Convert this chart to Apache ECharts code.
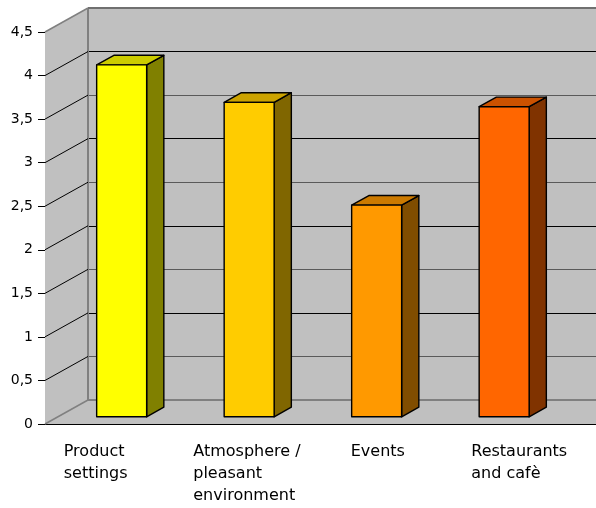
<!DOCTYPE html>
<html>
<head>
<meta charset="utf-8">
<script src="https://cdn.jsdelivr.net/npm/echarts@6/dist/echarts.min.js"></script>
<style>
	html, body { margin: 0; padding: 0; background: #fff; }
	#main { width: 596px; height: 508px; }
</style>
</head>
<body>
<div id="main"></div>
<script>
// chart data
var categories = ['Product\nsettings', 'Atmosphere /\npleasant\nenvironment', 'Events', 'Restaurants\nand cafè'];
var scores = [4.04, 3.61, 2.43, 3.56];
var valueTicks = [0, 0.5, 1, 1.5, 2, 2.5, 3, 3.5, 4, 4.5];

// looks
var frontColors = ['#FFFF00', '#FFCC00', '#FF9900', '#FF6600'];
var topColors = ['#CCCC00', '#CCA300', '#CC7A00', '#CC5200'];
var sideColors = ['#808000', '#806600', '#804D00', '#803300'];
var labelPad = [0, 2, 32, 25];
var DEPTH_X = 43, DEPTH_Y = -24;
var FONT = "'DejaVu Sans', Verdana, sans-serif";

var myChart = echarts.init(document.getElementById('main'));

var rich = {};
for (var i = 0; i < categories.length; i++) {
	rich['c' + i] = {
		fontFamily: FONT,
		fontSize: 16,
		lineHeight: 22,
		color: '#000',
		padding: [0, 0, 0, labelPad[i]]
	};
}

function wallItem(params, api) {
	var cs = params.coordSys;
	var W = api.getWidth();
	var bottom = cs.y + cs.height;
	var grey = '#808080';
	return {
		type: 'group',
		children: [{
			type: 'polygon',
			shape: { points: [[cs.x, cs.y], [cs.x + DEPTH_X, cs.y + DEPTH_Y], [cs.x + DEPTH_X, bottom + DEPTH_Y], [cs.x, bottom]] },
			style: { fill: '#C0C0C0' }
		}, {
			type: 'polygon',
			shape: { points: [[cs.x, bottom], [cs.x + DEPTH_X, bottom + DEPTH_Y], [W, bottom + DEPTH_Y], [W, bottom]] },
			style: { fill: '#C0C0C0' }
		}, {
			type: 'line',
			shape: { x1: cs.x + DEPTH_X, y1: bottom + DEPTH_Y, x2: W, y2: bottom + DEPTH_Y },
			style: { stroke: grey, lineWidth: 2 }
		}, {
			type: 'line',
			shape: { x1: cs.x + DEPTH_X, y1: cs.y + DEPTH_Y, x2: cs.x + DEPTH_X, y2: bottom + DEPTH_Y },
			style: { stroke: grey, lineWidth: 2 }
		}, {
			type: 'line',
			shape: { x1: cs.x + DEPTH_X, y1: cs.y + DEPTH_Y, x2: W, y2: cs.y + DEPTH_Y },
			style: { stroke: '#707070', lineWidth: 2 }
		}, {
			type: 'line',
			shape: { x1: cs.x + cs.width - 1, y1: Math.round(bottom) + 0.5, x2: W, y2: Math.round(bottom) + 0.5 },
			style: { stroke: '#000', lineWidth: 1 }
		}]
	};
}

function diagItem(params, api) {
	var cs = params.coordSys;
	var v = api.value(0);
	var y = api.coord([0, v])[1];
	var edge = (v === valueTicks[0] || v === valueTicks[valueTicks.length - 1]);
	return {
		type: 'line',
		shape: { x1: cs.x, y1: y, x2: cs.x + DEPTH_X, y2: y + DEPTH_Y },
		style: { stroke: edge ? '#808080' : '#000', lineWidth: edge ? 1.5 : 1 }
	};
}

function barItem(params, api) {
	var idx = api.value(0);
	var top = api.coord([idx, api.value(1)]);
	var base = api.coord([idx, 0]);
	var bw = api.size([1, 0])[0] * 0.392;
	var fx = DEPTH_X * 0.3, fy = DEPTH_Y * 0.3;
	var tx = DEPTH_X * 0.4, ty = DEPTH_Y * 0.4;
	var x0 = top[0] - bw / 2 + fx, x1 = x0 + bw;
	var yT = top[1] + fy, yB = base[1] + fy;
	var line = { stroke: '#000', lineWidth: 1.4, lineJoin: 'round' };
	return {
		type: 'group',
		children: [{
			type: 'polygon',
			shape: { points: [[x1, yT], [x1 + tx, yT + ty], [x1 + tx, yB + ty], [x1, yB]] },
			style: Object.assign({ fill: sideColors[idx] }, line)
		}, {
			type: 'polygon',
			shape: { points: [[x0, yT], [x0 + tx, yT + ty], [x1 + tx, yT + ty], [x1, yT]] },
			style: Object.assign({ fill: topColors[idx] }, line)
		}, {
			type: 'rect',
			shape: { x: x0, y: yT, width: bw, height: yB - yT },
			style: Object.assign({ fill: frontColors[idx] }, line)
		}]
	};
}

var option = {
	animation: false,
	backgroundColor: '#fff',
	grid: [
		{ left: 45, top: 32, width: 510, height: 392 },
		{ left: 88, top: 8, right: 0, height: 392, show: true, backgroundColor: '#C0C0C0', borderWidth: 0 },
		{ left: 0, top: 32, width: 510, height: 392 }
	],
	xAxis: [{
		gridIndex: 0,
		type: 'category',
		data: categories,
		axisLine: { lineStyle: { color: '#000', width: 1 } },
		axisTick: { length: 5, lineStyle: { color: '#000' } },
		axisLabel: { show: false }
	}, {
		gridIndex: 1,
		type: 'category',
		data: categories,
		show: false
	}, {
		gridIndex: 2,
		type: 'category',
		data: categories,
		axisLine: { show: false },
		axisTick: { show: false },
		axisLabel: {
			interval: 0,
			align: 'left',
			verticalAlign: 'top',
			margin: 17,
			formatter: function(value, index) {
				return value.split('\n').map(function(s) { return '{c' + index + '|' + s + '}'; }).join('\n');
			},
			rich: rich
		}
	}],
	yAxis: [{
		gridIndex: 0,
		type: 'value',
		min: valueTicks[0],
		max: valueTicks[valueTicks.length - 1],
		interval: 0.5,
		axisLine: { show: true, lineStyle: { color: '#000', width: 1 } },
		axisTick: { show: true, length: 7, lineStyle: { color: '#000' } },
		splitLine: { show: false },
		axisLabel: {
			margin: 12,
			fontFamily: FONT,
			fontSize: 14,
			color: '#000',
			formatter: function(v) { return String(v).replace('.', ','); }
		}
	}, {
		gridIndex: 1,
		type: 'value',
		min: valueTicks[0],
		max: valueTicks[valueTicks.length - 1],
		interval: 0.5,
		axisLine: { show: false },
		axisTick: { show: false },
		axisLabel: { show: false },
		splitLine: { show: true, lineStyle: { color: ['#000', '#5A5A5A'], width: 1 } }
	}, {
		gridIndex: 2,
		type: 'value',
		min: 0,
		max: 4.5,
		show: false
	}],
	series: [{
		name: 'walls',
		type: 'custom',
		xAxisIndex: 0,
		yAxisIndex: 0,
		silent: true,
		z: 1,
		data: [[0, 0]],
		renderItem: wallItem
	}, {
		name: 'wallLines',
		type: 'custom',
		xAxisIndex: 0,
		yAxisIndex: 0,
		silent: true,
		z: 1,
		encode: { y: 0 },
		data: valueTicks.map(function(v) { return [v]; }),
		renderItem: diagItem
	}, {
		name: 'score',
		type: 'custom',
		xAxisIndex: 0,
		yAxisIndex: 0,
		z: 3,
		data: scores.map(function(v, i) { return [i, v]; }),
		renderItem: barItem
	}]
};
myChart.setOption(option);
</script>
</body>
</html>
